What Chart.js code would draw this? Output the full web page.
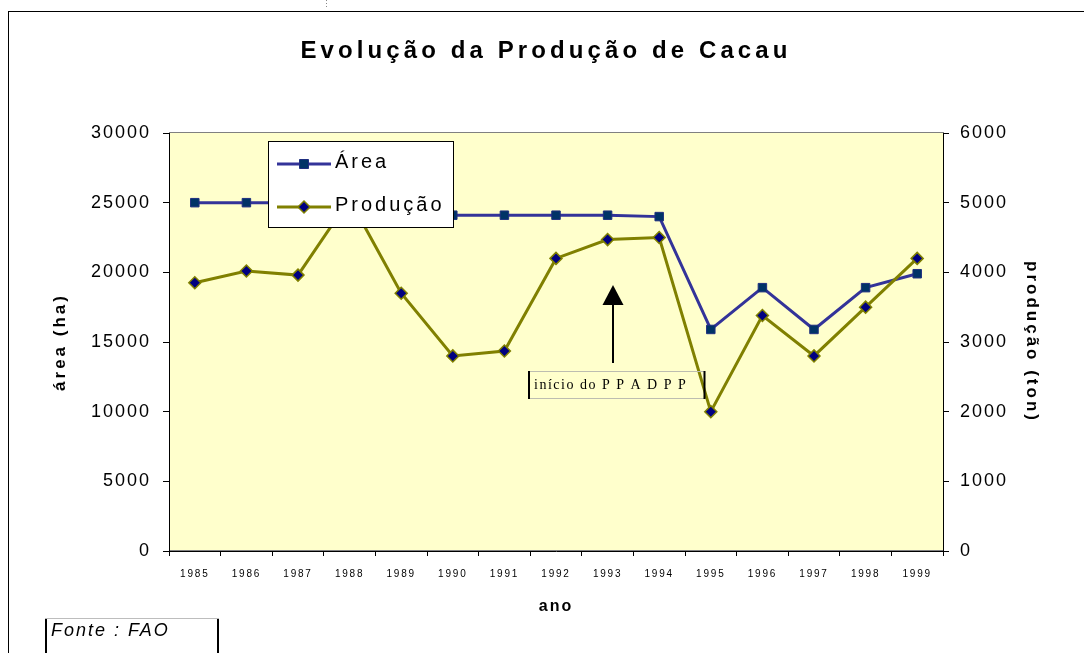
<!DOCTYPE html>
<html>
<head>
<meta charset="utf-8">
<title>Evolução da Produção de Cacau</title>
<script src="https://cdn.jsdelivr.net/npm/chart.js@4.4.1/dist/chart.umd.min.js"></script>
<style>
  html, body { margin: 0; padding: 0; background: #fff; }
  #wrap { width: 1084px; height: 653px; }
</style>
</head>
<body>
<div id="wrap"><canvas id="cacau" width="1084" height="653"></canvas></div>
<script>
/* DADOS */
const anos = ["1985","1986","1987","1988","1989","1990","1991","1992","1993","1994","1995","1996","1997","1998","1999"];
const area = [25000,25000,25000,25000,24100,24100,24100,24100,24100,24000,15900,18900,15900,18900,19900];
const producao = [3850,4020,3960,5050,3700,2800,2870,4200,4470,4500,2000,3380,2800,3500,4200];
const ticksArea = [0,5000,10000,15000,20000,25000,30000];
const ticksProducao = [0,1000,2000,3000,4000,5000,6000];

const titulo = "Evolução da Produção de Cacau";
const nota = "início do P P A D P P";
const fonte = "Fonte : FAO";

const familia = "Arial, 'Liberation Sans', sans-serif";
Chart.defaults.font.family = familia;
Chart.defaults.color = "#000";

/* letter spacing for tick labels and axis titles */
const espacos = { x: { ticks: 1.8, title: 2 }, y: { ticks: 2, title: 3 }, y1: { ticks: 2, title: 3 } };

function comEspaco(scale, metodo, px) {
  const orig = scale[metodo];
  scale[metodo] = function () {
    this.ctx.save();
    this.ctx.letterSpacing = px + "px";
    orig.apply(this, arguments);
    this.ctx.restore();
  };
}

/* PLUGINS */
const fundo = {
  id: "fundo",
  beforeDraw(chart) {
    const { ctx, chartArea: a } = chart;
    Object.values(chart.scales).forEach(s => {
      if (s._espaco) return;
      s._espaco = true;
      comEspaco(s, "drawLabels", espacos[s.id].ticks);
      comEspaco(s, "drawTitle", espacos[s.id].title);
    });
    ctx.save();
    ctx.fillStyle = "#ffffcc";
    ctx.fillRect(a.left, a.top, a.right - a.left, a.bottom - a.top);
    ctx.strokeStyle = "#808080";
    ctx.lineWidth = 1;
    ctx.strokeRect(a.left + 0.5, a.top - 0.5, a.right - a.left, a.bottom - a.top);
    ctx.restore();
  }
};

const legenda = {
  id: "legenda",
  afterDatasetsDraw(chart) {
    const ctx = chart.ctx;
    ctx.save();
    ctx.fillStyle = "#fff";
    ctx.fillRect(268.5, 141.5, 185, 86);
    ctx.strokeStyle = "#000";
    ctx.lineWidth = 1;
    ctx.strokeRect(268.5, 141.5, 185, 86);
    chart.data.datasets.forEach((ds, i) => {
      const ly = 164 + i * 43;
      ctx.strokeStyle = ds.borderColor;
      ctx.lineWidth = ds.borderWidth;
      ctx.beginPath();
      ctx.moveTo(277, ly);
      ctx.lineTo(331, ly);
      ctx.stroke();
      ctx.fillStyle = ds.pointBackgroundColor;
      ctx.strokeStyle = ds.pointBorderColor;
      ctx.lineWidth = ds.pointBorderWidth;
      ctx.beginPath();
      if (ds.pointStyle === "rect") {
        ctx.rect(299.5, ly - 4.5, 9, 9);
      } else {
        ctx.moveTo(304, ly - 6);
        ctx.lineTo(310, ly);
        ctx.lineTo(304, ly + 6);
        ctx.lineTo(298, ly);
        ctx.closePath();
      }
      ctx.fill();
      ctx.stroke();
      ctx.fillStyle = "#000";
      ctx.font = "20px " + familia;
      ctx.letterSpacing = "3px";
      ctx.textBaseline = "alphabetic";
      ctx.fillText(ds.label, 335, ly + 4);
    });
    ctx.restore();
  }
};

const anotacao = {
  id: "anotacao",
  afterDatasetsDraw(chart) {
    const ctx = chart.ctx;
    ctx.save();
    // arrow
    ctx.strokeStyle = "#000";
    ctx.fillStyle = "#000";
    ctx.lineWidth = 2;
    ctx.beginPath();
    ctx.moveTo(613, 363);
    ctx.lineTo(613, 302);
    ctx.stroke();
    ctx.beginPath();
    ctx.moveTo(613, 285);
    ctx.lineTo(623.5, 305);
    ctx.lineTo(602.5, 305);
    ctx.closePath();
    ctx.fill();
    // text box
    ctx.strokeStyle = "#bdbdb0";
    ctx.lineWidth = 1;
    ctx.beginPath();
    ctx.moveTo(528, 371.5); ctx.lineTo(705, 371.5);
    ctx.moveTo(528, 398.5); ctx.lineTo(705, 398.5);
    ctx.stroke();
    ctx.strokeStyle = "#000";
    ctx.lineWidth = 2;
    ctx.beginPath();
    ctx.moveTo(529, 371); ctx.lineTo(529, 399);
    ctx.moveTo(704.5, 371); ctx.lineTo(704.5, 399);
    ctx.stroke();
    ctx.font = "14px 'Liberation Serif', 'Times New Roman', serif";
    ctx.letterSpacing = "1.5px";
    ctx.textBaseline = "alphabetic";
    ctx.fillText(nota, 534, 389);
    ctx.restore();
  }
};

const moldura = {
  id: "moldura",
  afterDraw(chart) {
    const ctx = chart.ctx;
    ctx.save();
    // outer frame
    ctx.strokeStyle = "#000";
    ctx.lineWidth = 1;
    ctx.strokeRect(8.5, 11.5, 1200, 800);
    ctx.strokeStyle = "#888";
    ctx.setLineDash([1, 2]);
    ctx.beginPath();
    ctx.moveTo(326.5, 0);
    ctx.lineTo(326.5, 9);
    ctx.stroke();
    ctx.setLineDash([]);
    // title
    ctx.fillStyle = "#000";
    ctx.font = "bold 24px " + familia;
    ctx.letterSpacing = "4.1px";
    ctx.textAlign = "center";
    ctx.textBaseline = "alphabetic";
    ctx.fillText(titulo, 546, 58);
    // source box
    ctx.strokeStyle = "#bdbdbd";
    ctx.lineWidth = 1;
    ctx.beginPath();
    ctx.moveTo(45, 618.5);
    ctx.lineTo(219, 618.5);
    ctx.stroke();
    ctx.strokeStyle = "#000";
    ctx.lineWidth = 2;
    ctx.beginPath();
    ctx.moveTo(46, 619); ctx.lineTo(46, 653);
    ctx.moveTo(218, 619); ctx.lineTo(218, 653);
    ctx.stroke();
    ctx.font = "italic 18px " + familia;
    ctx.letterSpacing = "2px";
    ctx.textAlign = "left";
    ctx.fillText(fonte, 51, 636);
    ctx.restore();
  }
};

/* CHART */
new Chart(document.getElementById("cacau"), {
  type: "line",
  data: {
    labels: anos,
    datasets: [
      {
        label: "Área",
        data: area,
        yAxisID: "y",
        order: 1,
        borderColor: "#333399",
        borderWidth: 3,
        pointStyle: "rect",
        pointRadius: 6,
        pointBackgroundColor: "#003366",
        pointBorderColor: "#1f2f80",
        pointBorderWidth: 1,
        tension: 0
      },
      {
        label: "Produção",
        data: producao,
        yAxisID: "y1",
        order: 0,
        borderColor: "#808000",
        borderWidth: 3,
        pointStyle: "rectRot",
        pointRadius: 6,
        pointBackgroundColor: "#000080",
        pointBorderColor: "#808000",
        pointBorderWidth: 1.5,
        tension: 0
      }
    ]
  },
  options: {
    responsive: false,
    animation: false,
    layout: { padding: { top: 133, left: 0, right: 0, bottom: 0 } },
    plugins: { legend: { display: false }, tooltip: { enabled: false } },
    scales: {
      x: {
        type: "category",
        offset: true,
        afterFit: s => { s.height = 102; },
        grid: { offset: true, drawOnChartArea: false, drawTicks: true, tickLength: 5, color: "#000" },
        border: { color: "#000", width: 1 },
        ticks: { autoSkip: false, maxRotation: 0, padding: 12, font: { size: 10 }, color: "#000" },
        title: { display: true, text: "ano", font: { size: 16, weight: "bold" }, padding: { top: 0, bottom: 37 }, color: "#000" }
      },
      y: {
        position: "left",
        min: 0,
        max: 30000,
        afterFit: s => { s.width = 169; },
        afterBuildTicks: s => { s.ticks = ticksArea.map(v => ({ value: v })); },
        grid: { drawOnChartArea: false, drawTicks: true, tickLength: 6, color: "#000" },
        border: { color: "#000", width: 1 },
        ticks: { padding: 12, font: { size: 18 }, color: "#000", callback: v => String(v) },
        title: { display: true, text: "área (ha)", font: { size: 17, weight: "bold" }, padding: { top: 50, bottom: 0 }, color: "#000" }
      },
      y1: {
        position: "right",
        min: 0,
        max: 6000,
        afterFit: s => { s.width = 141; },
        afterBuildTicks: s => { s.ticks = ticksProducao.map(v => ({ value: v })); },
        grid: { drawOnChartArea: false, drawTicks: true, tickLength: 6, color: "#000" },
        border: { color: "#000", width: 1 },
        ticks: { padding: 11, font: { size: 18 }, color: "#000", callback: v => String(v) },
        title: { display: true, text: "produção (ton)", font: { size: 17, weight: "bold" }, padding: { top: 42, bottom: 0 }, color: "#000" }
      }
    }
  },
  plugins: [fundo, legenda, anotacao, moldura]
});
</script>
</body>
</html>
